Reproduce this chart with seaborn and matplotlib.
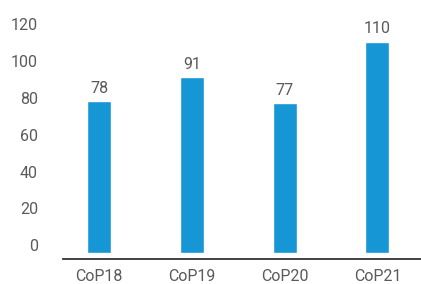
import matplotlib
matplotlib.use("Agg")
import matplotlib.pyplot as plt
import seaborn as sns
import pandas as pd

events = ["CoP18", "CoP19", "CoP20", "CoP21"]
values = [78, 91, 77, 110]
y_ticks = [0, 20, 40, 60, 80, 100, 120]

sns.set_style("white")
plt.rcParams["font.family"] = ["Roboto", "DejaVu Sans"]

df = pd.DataFrame({"event": events, "value": values})

fig = plt.figure(figsize=(4.21, 2.84), dpi=100)
ax = fig.add_axes([63 / 421, 25 / 284, 1 - 63 / 421, (259 - 20) / 284])

sns.barplot(data=df, x="event", y="value", color="#1796d6", width=0.26,
            saturation=1, ax=ax)

ax.set_xlim(-0.39, 3.47)
ax.set_ylim(-7.3, 121.9)
ax.set_yticks(y_ticks)
ax.set_xlabel("")
ax.set_ylabel("")

# bars in the original run a few px past zero toward the axis line
overhang = 4
for p in ax.patches:
    p.set_y(p.get_y() - overhang)
    p.set_height(p.get_height() + overhang)

for s in ["top", "right", "left"]:
    ax.spines[s].set_visible(False)
ax.spines["bottom"].set_color("#333333")
ax.spines["bottom"].set_linewidth(1.3)

txt_col = "#5a5a5a"
ax.tick_params(axis="y", length=0, pad=18, labelsize=11.5, labelcolor=txt_col)
ax.tick_params(axis="x", length=0, pad=7, labelsize=11.5, labelcolor=txt_col)

ax.bar_label(ax.containers[0], labels=[str(v) for v in values], padding=4,
             fontsize=11.5, color=txt_col)

fig.savefig("out.png", dpi=100)
